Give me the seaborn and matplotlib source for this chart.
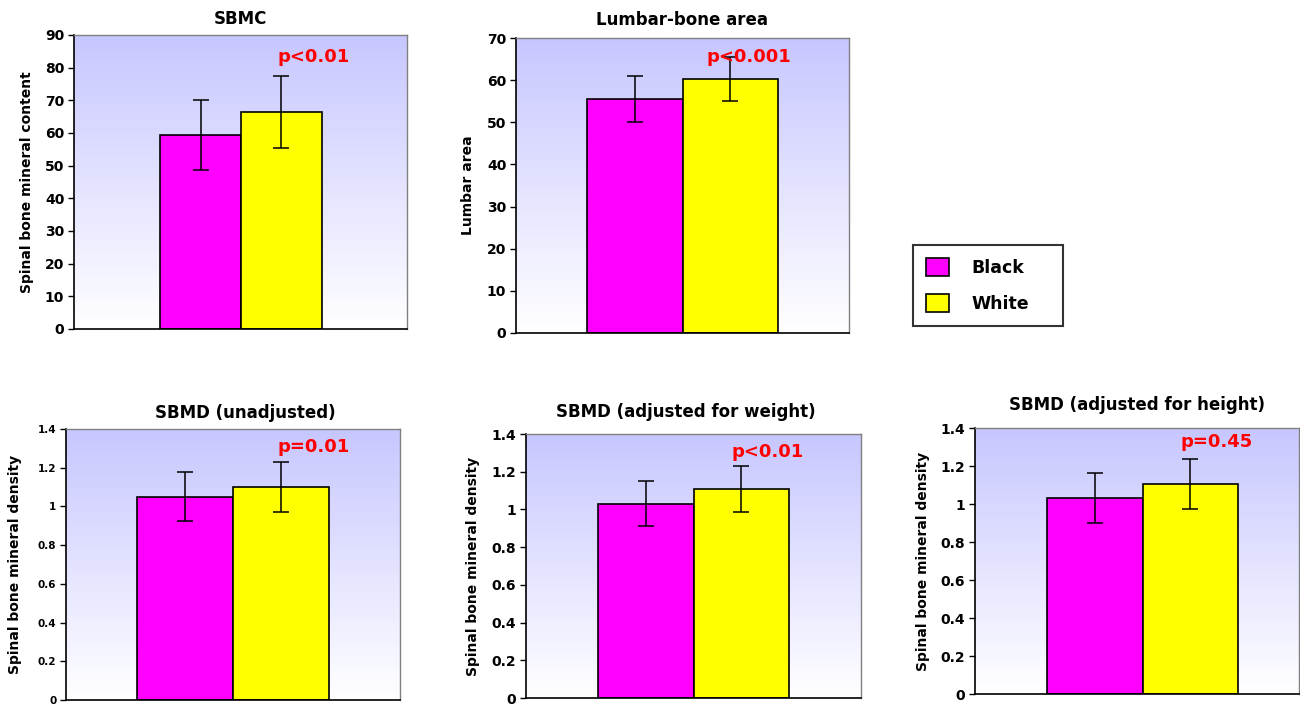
import numpy as np
import pandas as pd
import matplotlib
matplotlib.use("Agg")
import matplotlib.pyplot as plt
import seaborn as sns
from matplotlib.patches import Patch

sns.set_style("white")
plt.rcParams["font.family"] = ["DejaVu Sans"]
plt.rcParams["text.color"] = "black"
plt.rcParams["axes.labelcolor"] = "black"
plt.rcParams["xtick.color"] = "black"
plt.rcParams["ytick.color"] = "black"

# ---------------- data ----------------
groups = ["Black", "White"]
group_colors = ["#FF00FF", "#FFFF00"]

titles = ["SBMC", "Lumbar-bone area", "SBMD (unadjusted)",
          "SBMD (adjusted for weight)", "SBMD (adjusted for height)"]
ylabels = ["Spinal bone mineral content", "Lumbar area",
           "Spinal bone mineral density", "Spinal bone mineral density",
           "Spinal bone mineral density"]
pvalue_labels = ["p<0.01", "p<0.001", "p=0.01", "p<0.01", "p=0.45"]

sbmc_means = [59.5, 66.4]
sbmc_errs = [10.7, 11.1]
lumbar_means = [55.6, 60.3]
lumbar_errs = [5.5, 5.2]
sbmd_unadj_means = [1.05, 1.10]
sbmd_unadj_errs = [0.127, 0.131]
sbmd_weight_means = [1.03, 1.107]
sbmd_weight_errs = [0.12, 0.123]
sbmd_height_means = [1.032, 1.105]
sbmd_height_errs = [0.13, 0.13]

ticks_sbmc = [0, 10, 20, 30, 40, 50, 60, 70, 80, 90]
ticks_lumbar = [0, 10, 20, 30, 40, 50, 60, 70]
ticks_sbmd = [0, 0.2, 0.4, 0.6, 0.8, 1.0, 1.2, 1.4]
ticklabels_sbmd = ["0", "0.2", "0.4", "0.6", "0.8", "1", "1.2", "1.4"]

panels = [
    (sbmc_means, sbmc_errs, ticks_sbmc, [str(t) for t in ticks_sbmc]),
    (lumbar_means, lumbar_errs, ticks_lumbar, [str(t) for t in ticks_lumbar]),
    (sbmd_unadj_means, sbmd_unadj_errs, ticks_sbmd, ticklabels_sbmd),
    (sbmd_weight_means, sbmd_weight_errs, ticks_sbmd, ticklabels_sbmd),
    (sbmd_height_means, sbmd_height_errs, ticks_sbmd, ticklabels_sbmd),
]

# ---------------- layout ----------------
W, H = 1300, 704
# axes boxes in pixels: left, top, right, bottom
boxes = [(74, 35, 407, 329), (516, 38, 849, 333), (66, 429, 400, 700),
         (526, 434, 861, 698), (975, 428, 1299, 694)]
xlims = [(-0.825, 0.82), (-0.70, 0.70), (-0.695, 0.695), (-0.70, 0.70), (-0.70, 0.654)]
tick_sizes = [10, 10, 7.5, 10, 10]
title_pos = [(0.50, 1.055), (0.497, 1.06), (0.536, 1.06), (0.476, 1.083), (0.50, 1.086)]
ylabel_x = [-0.120, -0.123, -0.132, -0.137, -0.138]
ptext_pos = [(0.72, 0.925), (0.70, 0.935), (0.74, 0.935), (0.72, 0.93), (0.746, 0.947)]

fig = plt.figure(figsize=(W / 100, H / 100), dpi=100)

grad = np.linspace(1, 0, 256).reshape(-1, 1)
top_rgb = np.array([0.78, 0.78, 1.0])
img = np.ones((256, 1, 3)) * (1 - grad[..., None]) + top_rgb * grad[..., None]

for i, (means, errs, ticks, tlabels) in enumerate(panels):
    l, t, r, b = boxes[i]
    ax = fig.add_axes([l / W, 1 - b / H, (r - l) / W, (b - t) / H])
    df = pd.DataFrame({"cat": ["all", "all"], "group": groups, "value": means})
    sns.barplot(data=df, x="cat", y="value", hue="group", hue_order=groups,
                palette=dict(zip(groups, group_colors)), errorbar=None,
                edgecolor="black", linewidth=1.2, saturation=1, width=0.8,
                legend=False, ax=ax)
    for cont, e in zip(ax.containers, errs):
        bar = cont.patches[0]
        ax.errorbar(bar.get_x() + bar.get_width() / 2, bar.get_height(), yerr=e,
                    fmt="none", ecolor="black", elinewidth=1.1, capsize=6,
                    capthick=1.1, zorder=4)
    ax.imshow(img, extent=[0, 1, 0, 1], transform=ax.transAxes, aspect="auto",
              zorder=0, interpolation="bilinear")
    ax.set_xlim(*xlims[i])
    ax.set_ylim(ticks[0], ticks[-1])
    ax.set_xticks([])
    ax.set_xlabel("")
    ax.set_yticks(ticks)
    ax.set_yticklabels(tlabels, fontweight="bold", fontsize=tick_sizes[i])
    ax.tick_params(axis="y", direction="out", length=4, width=1, left=True, pad=3,
                   color="black", labelcolor="black")
    for side in ["left", "bottom"]:
        ax.spines[side].set_color("black")
        ax.spines[side].set_linewidth(1.2)
    for side in ["top", "right"]:
        ax.spines[side].set_color("#808080")
        ax.spines[side].set_linewidth(1.0)
    ax.set_ylabel(ylabels[i], fontsize=10, fontweight="bold", color="black")
    ax.yaxis.set_label_coords(ylabel_x[i], 0.5)
    ax.text(title_pos[i][0], title_pos[i][1], titles[i], transform=ax.transAxes,
            ha="center", va="center", fontsize=12, fontweight="bold", color="black")
    ax.text(ptext_pos[i][0], ptext_pos[i][1], pvalue_labels[i], transform=ax.transAxes,
            ha="center", va="center", fontsize=13, fontweight="bold", color="red",
            zorder=5)

handles = [Patch(facecolor=c, edgecolor="black", linewidth=1.2) for c in group_colors]
leg = fig.legend(handles, groups, loc="upper left",
                 bbox_to_anchor=(913 / W, 1 - 332 / H, 150 / W, 87 / H),
                 mode="expand", borderaxespad=0,
                 frameon=True, fancybox=False, edgecolor="black",
                 prop={"weight": "bold", "size": 12.5}, handlelength=1.3,
                 handleheight=1.2, handletextpad=1.3, labelspacing=0.98,
                 borderpad=0.75)
leg.get_frame().set_linewidth(1.5)
for txt in leg.get_texts():
    txt.set_color("black")

fig.savefig("out.png", dpi=100)
